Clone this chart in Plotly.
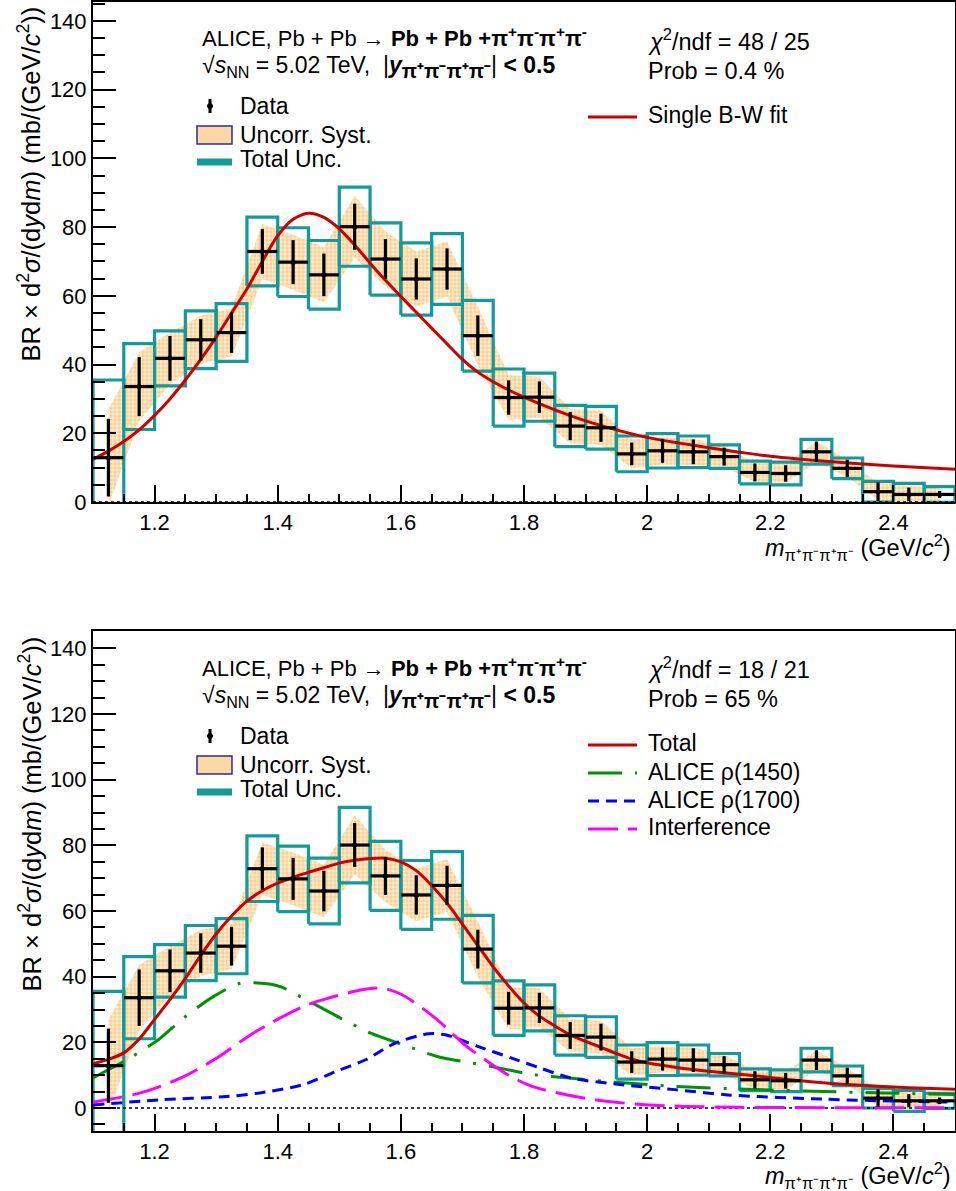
import plotly.graph_objects as go

# ---------------- data ----------------
mass = [1.125, 1.175, 1.225, 1.275, 1.325, 1.375, 1.425, 1.475, 1.525, 1.575,
        1.625, 1.675, 1.725, 1.775, 1.825, 1.875, 1.925, 1.975, 2.025, 2.075,
        2.125, 2.175, 2.225, 2.275, 2.325, 2.375, 2.425, 2.475]
xsec = [12.9, 33.6, 41.8, 47.2, 49.3, 72.9, 69.8, 66.1, 80.1, 70.7,
        64.9, 67.8, 48.4, 30.4, 30.5, 22.1, 21.6, 14.0, 14.9, 14.6,
        13.2, 8.6, 8.3, 14.6, 9.8, 3.0, 2.2, 2.2]
stat_err = [11.3, 8.6, 6.5, 6.0, 5.9, 6.5, 6.4, 6.2, 6.7, 5.8,
            6.0, 6.0, 5.9, 5.0, 4.6, 4.1, 4.1, 3.3, 3.5, 3.6,
            2.6, 2.6, 2.4, 3.0, 2.5, 2.7, 2.0, 1.0]
uncorr_syst = [14.0, 10.0, 7.5, 7.0, 7.0, 8.0, 8.0, 8.0, 9.0, 8.0,
               8.0, 8.0, 8.5, 6.5, 6.0, 5.0, 5.0, 4.2, 4.0, 3.8,
               3.0, 2.8, 2.8, 3.0, 2.5, 2.5, 2.5, 2.0]
total_unc = [22.6, 12.5, 8.0, 8.4, 8.4, 10.0, 10.0, 10.0, 11.5, 10.5,
             10.5, 10.3, 10.3, 8.3, 7.0, 6.0, 6.2, 5.2, 5.0, 4.6,
             3.4, 3.3, 3.3, 3.6, 3.0, 3.0, 3.2, 2.3]
bin_half = 0.025

# single Breit-Wigner fit (top panel)
bw_m = [1.100, 1.125, 1.150, 1.175, 1.200, 1.225, 1.250, 1.275, 1.300, 1.325,
        1.350, 1.375, 1.400, 1.425, 1.450, 1.475, 1.500, 1.525, 1.550, 1.575,
        1.600, 1.625, 1.650, 1.675, 1.700, 1.725, 1.750, 1.775, 1.800, 1.850,
        1.900, 1.950, 2.000, 2.050, 2.100, 2.150, 2.200, 2.300, 2.400, 2.500]
bw_v = [12.4, 14.8, 17.6, 21.0, 25.2, 30.0, 35.5, 41.5, 48.0, 55.0,
        62.0, 70.0, 77.5, 82.3, 84.0, 82.8, 79.5, 74.8, 69.5, 64.5,
        59.8, 55.2, 50.6, 46.0, 41.5, 37.8, 35.0, 32.6, 30.5, 26.8,
        23.6, 21.0, 18.8, 17.2, 15.8, 14.5, 13.3, 11.7, 10.5, 9.5]

# two-resonance fit (bottom panel)
tot_m = [1.100, 1.125, 1.150, 1.175, 1.200, 1.225, 1.250, 1.275, 1.300, 1.325,
         1.350, 1.375, 1.400, 1.425, 1.450, 1.475, 1.500, 1.525, 1.550, 1.575,
         1.600, 1.625, 1.650, 1.675, 1.700, 1.725, 1.750, 1.775, 1.800, 1.825,
         1.850, 1.875, 1.900, 1.925, 1.950, 1.975, 2.000, 2.050, 2.100, 2.150,
         2.200, 2.250, 2.300, 2.350, 2.400, 2.450, 2.500]
tot_v = [13.5, 14.8, 16.8, 21.0, 27.0, 33.0, 39.5, 46.5, 53.0, 58.5,
         63.0, 66.2, 68.5, 70.3, 71.8, 73.2, 74.6, 75.5, 76.0, 76.1,
         75.0, 72.3, 67.8, 62.4, 56.0, 49.5, 43.0, 37.2, 32.0, 28.0,
         25.0, 22.3, 20.3, 18.5, 16.6, 14.9, 13.8, 12.3, 11.2, 10.3,
         9.3, 8.3, 7.5, 6.9, 6.4, 6.0, 5.7]
r1450_m = [1.10, 1.155, 1.206, 1.247, 1.296, 1.339, 1.374, 1.404, 1.441, 1.502,
           1.551, 1.608, 1.659, 1.716, 1.759, 1.818, 1.877, 1.931, 1.99, 2.045,
           2.131, 2.27, 2.384, 2.50]
r1450_v = [9.2, 14.7, 20.8, 27.4, 34.0, 38.0, 38.0, 37.0, 33.5, 27.4,
           22.8, 19.0, 15.7, 13.7, 12.2, 10.1, 9.1, 8.1, 7.3, 6.6,
           5.9, 5.1, 4.6, 4.1]
r1700_m = [1.10, 1.209, 1.317, 1.371, 1.441, 1.494, 1.543, 1.591, 1.645, 1.672,
           1.726, 1.78, 1.826, 1.877, 1.959, 2.045, 2.131, 2.286, 2.427, 2.50]
r1700_v = [0.9, 2.5, 3.5, 4.6, 7.1, 11.1, 14.7, 19.8, 22.6, 22.3,
           18.7, 15.2, 12.2, 9.1, 7.1, 5.6, 4.0, 2.7, 2.0, 1.8]
intf_m = [1.10, 1.177, 1.242, 1.301, 1.36, 1.441, 1.483, 1.537, 1.57, 1.602,
          1.656, 1.683, 1.71, 1.737, 1.775, 1.813, 1.883, 1.937, 1.996, 2.061,
          2.15, 2.30, 2.50]
intf_v = [1.8, 4.6, 9.1, 15.2, 22.8, 30.9, 33.5, 36.0, 36.5, 34.5,
          27.4, 22.8, 18.3, 14.7, 10.0, 6.6, 3.5, 2.0, 1.0, 0.5,
          0.2, 0.1, 0.1]

x_range = [1.1, 2.5]
y_range_top = [0, 145.5]
y_range_bot = [-7, 145.3]

# ---------------- style ----------------
FONT = "Liberation Sans, Arial, Helvetica, sans-serif"
TEAL = "#139a9a"
RED = "#cc0000"
GREEN = "#009300"
BLUE = "#0000ff"
MAGENTA = "#ff00ff"
BAND_FG = "#f7b65a"
BAND_BG = "#fdebd0"

W, H = 956, 1191
L, R, T, B = 93, 1, 2, 60
PW = W - L - R
PH = H - T - B


def pxx(x):
    return (x - L) / PW


def pxy(y):
    return (H - B - y) / PH


top_dom = [pxy(502), 1.0]
bot_dom = [0.0, pxy(631)]

fig = go.Figure()


def add_panel(xa, ya, curves):
    # uncorrelated systematic band
    bx = mass + mass[::-1]
    by = [v + e for v, e in zip(xsec, uncorr_syst)] + \
         [v - e for v, e in zip(xsec, uncorr_syst)][::-1]
    fig.add_trace(go.Scatter(x=bx, y=by, xaxis=xa, yaxis=ya, mode="lines",
                             fill="toself", line=dict(width=0),
                             fillcolor=BAND_BG,
                             fillpattern=dict(shape=".", fgcolor=BAND_FG,
                                              bgcolor=BAND_BG, size=4, solidity=0.55),
                             hoverinfo="skip", showlegend=False))
    # total uncertainty boxes
    rx, ry = [], []
    for m, v, e in zip(mass, xsec, total_unc):
        rx += [m - bin_half, m + bin_half, m + bin_half, m - bin_half, m - bin_half, None]
        ry += [v - e, v - e, v + e, v + e, v - e, None]
    fig.add_trace(go.Scatter(x=rx, y=ry, xaxis=xa, yaxis=ya, mode="lines",
                             line=dict(color=TEAL, width=3.2), hoverinfo="skip",
                             showlegend=False))
    # zero line
    fig.add_trace(go.Scatter(x=x_range, y=[0, 0], xaxis=xa, yaxis=ya, mode="lines",
                             line=dict(color="black", width=1.5, dash="dot"),
                             hoverinfo="skip", showlegend=False))
    for cx, cy, col, dash in curves:
        fig.add_trace(go.Scatter(x=cx, y=cy, xaxis=xa, yaxis=ya, mode="lines",
                                 line=dict(color=col, width=3, dash=dash,
                                           shape="spline", smoothing=0.8),
                                 hoverinfo="skip", showlegend=False))
    # data points with statistical errors
    fig.add_trace(go.Scatter(x=mass, y=xsec, xaxis=xa, yaxis=ya, mode="markers",
                             marker=dict(color="black", size=5),
                             error_x=dict(type="constant", value=bin_half * 0.97,
                                          color="black", thickness=3.2, width=0),
                             error_y=dict(type="data", array=stat_err,
                                          color="black", thickness=3.2, width=0),
                             showlegend=False))


add_panel("x", "y", [(bw_m, bw_v, RED, "solid")])
add_panel("x2", "y2", [(r1450_m, r1450_v, GREEN, "34px,13px,3px,13px"),
                       (r1700_m, r1700_v, BLUE, "11px,7px"),
                       (intf_m, intf_v, MAGENTA, "30px,10px"),
                       (tot_m, tot_v, RED, "solid")])


def xaxis(dom_anchor):
    return dict(range=x_range, anchor=dom_anchor, domain=[0, 1], automargin=False,
                showline=True, mirror=True, linecolor="black", linewidth=2,
                ticks="inside", ticklen=17, tickwidth=2, tickcolor="black",
                tickmode="linear", tick0=1.2, dtick=0.2,
                minor=dict(ticks="inside", ticklen=8, tickwidth=1.5,
                           tickcolor="black", tickmode="linear", tick0=1.1, dtick=0.05),
                showgrid=False, zeroline=False,
                tickfont=dict(family=FONT, size=22, color="black"))


def yaxis(rng, dom, anchor):
    return dict(range=rng, domain=dom, anchor=anchor, automargin=False,
                showline=True, mirror=True, linecolor="black", linewidth=2,
                ticks="inside", ticklen=23, tickwidth=2, tickcolor="black",
                tickmode="linear", tick0=0, dtick=20,
                minor=dict(ticks="inside", ticklen=12, tickwidth=1.5,
                           tickcolor="black", tickmode="linear", tick0=0, dtick=5),
                showgrid=False, zeroline=False,
                tickfont=dict(family=FONT, size=22, color="black"))


fig.update_layout(
    width=W, height=H, margin=dict(l=L, r=R, t=T, b=B, autoexpand=False),
    paper_bgcolor="white", plot_bgcolor="white",
    font=dict(family=FONT, size=22, color="black"),
    xaxis=xaxis("y"), yaxis=yaxis(y_range_top, top_dom, "x"),
    xaxis2=xaxis("y2"), yaxis2=yaxis(y_range_bot, bot_dom, "x2"),
    showlegend=False,
)

ann = []
shapes = []


def text(x, y, s, size=23, xanchor="left", yanchor="middle", angle=0):
    ann.append(dict(x=pxx(x), y=pxy(y), xref="paper", yref="paper", text=s,
                    showarrow=False, xanchor=xanchor, yanchor=yanchor,
                    textangle=angle, font=dict(family=FONT, size=size, color="black")))


def hline(x0, x1, y, color, width, dash="solid"):
    shapes.append(dict(type="line", xref="paper", yref="paper",
                       x0=pxx(x0), x1=pxx(x1), y0=pxy(y), y1=pxy(y),
                       line=dict(color=color, width=width, dash=dash)))


pions = "π<sup>+</sup>π<sup>-</sup>π<sup>+</sup>π<sup>-</sup>"
title1 = "ALICE, Pb + Pb → <b>Pb + Pb +" + pions + "</b>"
title2 = ("√<i>s</i><sub>NN</sub> = 5.02 TeV,  |<b><i>y</i></b>"
          "<sub><b><span style='font-size:20px'>π⁺π⁻π⁺π⁻</span></b></sub>| "
          "<b>&lt; 0.5</b>")
ytitle = ("BR × d<sup>2</sup><i>σ</i>/(d<i>y</i>d<i>m</i>) "
          "(mb/(GeV/<i>c</i><sup>2</sup>))")
xtitle = "<i>m</i><sub>π⁺π⁻π⁺π⁻</sub> (GeV/<i>c</i><sup>2</sup>)"

for panel, chi, prob in [(0, "48 / 25", "0.4 %"), (1, "18 / 21", "65 %")]:
    y_alice = 37 if panel == 0 else 667
    text(200, y_alice, title1, size=22)
    text(200, y_alice + 30, title2, size=23)
    dy = 106 if panel == 0 else 736
    # Data legend symbol
    shapes.append(dict(type="line", xref="paper", yref="paper",
                       x0=pxx(210), x1=pxx(210), y0=pxy(dy - 7), y1=pxy(dy + 7),
                       line=dict(color="black", width=3)))
    shapes.append(dict(type="circle", xref="paper", yref="paper",
                       x0=pxx(207.5), x1=pxx(212.5), y0=pxy(dy + 2.5), y1=pxy(dy - 2.5),
                       fillcolor="black", line=dict(color="black", width=1)))
    text(238, dy, "Data")
    uy = dy + 29
    shapes.append(dict(type="rect", xref="paper", yref="paper",
                       x0=pxx(197), x1=pxx(232), y0=pxy(uy - 9), y1=pxy(uy + 9),
                       fillcolor="#fbd8a4", line=dict(color="#2b2b9a", width=1.5)))
    text(238, uy, "Uncorr. Syst.")
    ty = dy + 53
    hline(197, 232, ty + 3, TEAL, 7)
    text(238, ty, "Total Unc.")
    cy = 40 if panel == 0 else 668
    text(646, cy, "<i>χ</i><sup>2</sup>/ndf = " + chi, size=23.5)
    text(646, cy + 31, "Prob = " + prob, size=23.5)

hline(588, 637, 117, RED, 3)
text(646, 115, "Single B-W fit")

hline(588, 637, 745, RED, 3)
text(646, 743, "Total")
hline(588, 637, 773, GREEN, 3, "34px,13px,3px,13px")
text(646, 772, "ALICE ρ(1450)")
hline(588, 637, 801, BLUE, 3, "11px,7px")
text(646, 800, "ALICE ρ(1700)")
hline(588, 637, 829, MAGENTA, 3, "30px,10px")
text(646, 827, "Interference")

# axis titles
text(30, 5, ytitle, size=25.5, xanchor="center", yanchor="top", angle=-90)
text(30, 635, ytitle, size=25.5, xanchor="center", yanchor="top", angle=-90)
text(953, 547, xtitle, size=23.5, xanchor="right")
text(953, 1175, xtitle, size=23.5, xanchor="right")

fig.update_layout(annotations=ann, shapes=shapes)
fig.write_html("out.html", config={"displayModeBar": False},
               post_script="document.body.style.margin='0';"
                           "document.body.style.overflow='hidden';")
